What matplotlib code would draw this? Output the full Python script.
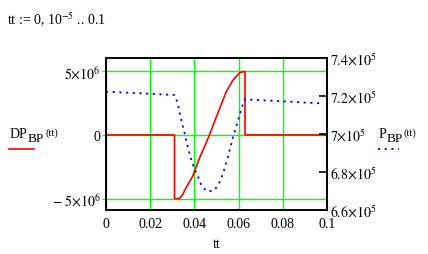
import numpy as np
import matplotlib
matplotlib.use('Agg')
import matplotlib.pyplot as plt
from matplotlib.lines import Line2D

plt.rcParams['font.family'] = ['Liberation Serif', 'DejaVu Serif']
plt.rcParams['mathtext.fontset'] = 'stix'

# DP_BP(tt)
dp_t = [0, 0.031, 0.031, 0.0332, 0.0345, 0.0362, 0.0392, 0.0423, 0.0445, 0.0468,
        0.0491, 0.0514, 0.0544, 0.0574, 0.0605, 0.0629, 0.0629, 0.1]
dp_v = [0, 0, -5e6, -5e6, -4.75e6, -4.16e6, -3.25e6, -1.82e6, -0.95e6, 0,
        1.05e6, 2.08e6, 3.39e6, 4.3e6, 4.9e6, 5e6, 0, 0]

# P_BP(tt)
p_t = [0, 0.0195, 0.031, 0.0324, 0.034, 0.0355, 0.037, 0.0392, 0.0415, 0.043,
       0.0453, 0.0483, 0.0506, 0.0529, 0.0551, 0.0574, 0.0597, 0.0612, 0.0627,
       0.0635, 0.08, 0.0976]
p_v = [7.223e5, 7.212e5, 7.205e5, 7.165e5, 7.077e5, 7.007e5, 6.93e5, 6.84e5, 6.78e5,
       6.735e5, 6.70e5, 6.70e5, 6.726e5, 6.79e5, 6.877e5, 6.98e5, 7.07e5, 7.13e5,
       7.182e5, 7.182e5, 7.172e5, 7.161e5]

x_ticks = [0, 0.02, 0.04, 0.06, 0.08, 0.1]
x_labels = ['0', '0.02', '0.04', '0.06', '0.08', '0.1']
l_ticks = [-5e6, 0, 5e6]
l_labels = [r'$-\;5{\times}10^{6}$', '0', r'$5{\times}10^{6}$']
r_ticks = [6.6e5, 6.8e5, 7.0e5, 7.2e5, 7.4e5]
r_labels = [r'$6.6{\times}10^{5}$', r'$6.8{\times}10^{5}$', r'$7{\times}10^{5}$',
            r'$7.2{\times}10^{5}$', r'$7.4{\times}10^{5}$']

W, H = 428, 255
fig = plt.figure(figsize=(W / 100, H / 100), dpi=100)
ax = fig.add_axes([106 / W, 44 / H, 221 / W, 152 / H])

green = '#00ff00'
ax.set_xlim(0, 0.1)
ax.set_ylim(-5.9e6, 6.05e6)
ax.set_xticks(x_ticks)
ax.set_xticklabels(x_labels, fontsize=10)
ax.set_yticks(l_ticks)
ax.set_yticklabels(l_labels, fontsize=10)
ax.tick_params(axis='x', length=0, pad=5)
ax.tick_params(axis='y', length=3, color=green, pad=1)
ax.grid(True, color=green, lw=1)
ax.set_axisbelow(True)
ax.plot(dp_t, dp_v, color='#ff0000', lw=1.2, zorder=3)
ax.set_xlabel('tt', fontsize=10, labelpad=5)
for s in ax.spines.values():
    s.set_linewidth(1.2)

ax2 = ax.twinx()
ax2.set_ylim(6.6e5, 7.4e5)
ax2.set_yticks(r_ticks)
ax2.set_yticklabels(r_labels, fontsize=10)
ax2.tick_params(axis='y', direction='in', length=6, width=1.2, pad=2)
ax2.plot(p_t, p_v, color='#0000ff', lw=1.3, linestyle=(0, (1.2, 2.5)))
for s in ax2.spines.values():
    s.set_linewidth(1.2)


def px(x, y):
    return x / W, 1 - y / H


def fn_label(x, y, name):
    # name + subscript BP + raised (tt), Mathcad style
    r = fig.canvas.get_renderer()
    t = fig.text(*px(x, y), name, fontsize=10)
    w = t.get_window_extent(r).width
    s = fig.text(*px(x + w, y + 4), 'BP', fontsize=9.5)
    w2 = s.get_window_extent(r).width
    fig.text(*px(x + w + w2 + 1, y - 2), '(tt)', fontsize=7.5)


fig.text(*px(7, 25), r'tt := 0, 10$^{-5}$ .. 0.1', fontsize=10)
fn_label(10, 138, 'DP')
fig.add_artist(Line2D([9 / W, 34 / W], [1 - 150 / H, 1 - 150 / H],
                      transform=fig.transFigure, color='#ff0000', lw=1.2))
fn_label(379, 138, 'P')
fig.add_artist(Line2D([378 / W, 399 / W], [1 - 150 / H, 1 - 150 / H],
                      transform=fig.transFigure, color='#0000ff', lw=1.3,
                      linestyle=(0, (1.2, 2.5))))

fig.savefig('out.png', dpi=100)
